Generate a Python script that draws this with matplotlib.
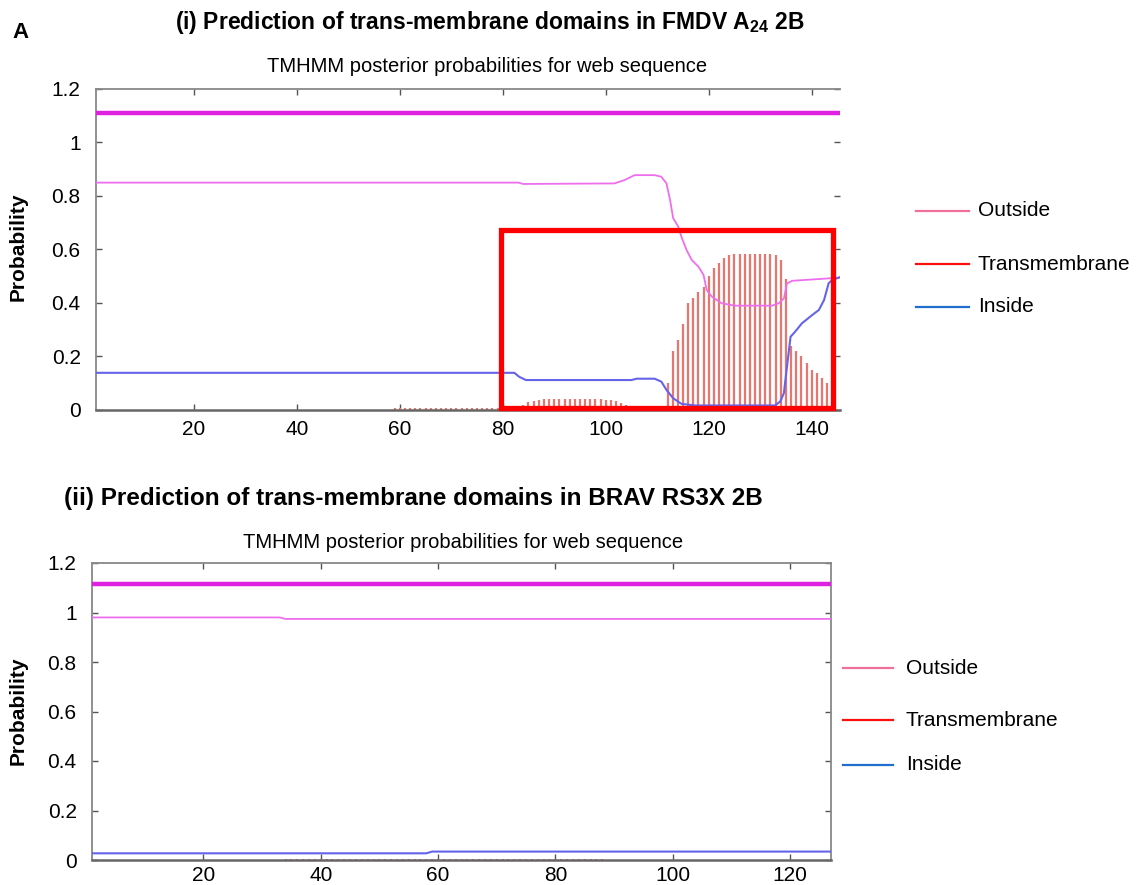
import matplotlib
matplotlib.use("Agg")
import matplotlib.pyplot as plt
from matplotlib.lines import Line2D
from matplotlib.patches import Rectangle

plt.rcParams['font.family'] = ['Liberation Sans', 'DejaVu Sans']
plt.rcParams['mathtext.fontset'] = 'custom'
plt.rcParams['mathtext.rm'] = 'Liberation Sans'
plt.rcParams['mathtext.bf'] = 'Liberation Sans:bold'

# ---- panel (i): FMDV A24 2B ----
top_out_x = [1, 83, 84, 101.7, 103.7, 105.6, 109.5, 110.8, 111.8, 112.5, 113.1, 114.1, 114.7,
             115.7, 116.7, 118.0, 119.0, 119.6, 120.6, 122.5, 125.1, 132.3, 133.6, 134.6,
             135.2, 136.2, 143.3, 146]
top_out_y = [0.85, 0.85, 0.845, 0.847, 0.86, 0.878, 0.878, 0.872, 0.847, 0.785, 0.717, 0.685,
             0.648, 0.598, 0.561, 0.536, 0.505, 0.449, 0.424, 0.399, 0.39, 0.39, 0.399, 0.417,
             0.473, 0.483, 0.492, 0.496]
top_in_x = [1, 82.25, 83.2, 84.5, 105, 106, 109.5, 110.8, 111.8, 113.1, 114.7, 117.3, 132.9,
            133.9, 134.6, 135.2, 135.9, 136.8, 138.1, 140.1, 141.4, 142.4, 143.3, 144, 146]
top_in_y = [0.139, 0.139, 0.124, 0.112, 0.112, 0.117, 0.117, 0.106, 0.075, 0.044, 0.023, 0.017,
            0.017, 0.032, 0.063, 0.162, 0.274, 0.293, 0.324, 0.355, 0.374, 0.411, 0.474, 0.486,
            0.5]
top_tm_pos = list(range(59, 105)) + list(range(112, 145))
top_tm_val = ([0.006] * 25 +
              [0.02, 0.03, 0.035, 0.038, 0.04, 0.04, 0.04, 0.04, 0.04, 0.04, 0.04, 0.04, 0.04,
               0.04, 0.04, 0.04, 0.038, 0.036, 0.033, 0.028, 0.02] +
              [0.10, 0.22, 0.26, 0.32, 0.40, 0.42, 0.44, 0.46, 0.50, 0.53, 0.55, 0.57, 0.58,
               0.585, 0.585, 0.585, 0.585, 0.585, 0.585, 0.585, 0.585, 0.58, 0.56, 0.49, 0.24,
               0.22, 0.20, 0.175, 0.15, 0.14, 0.12, 0.10, 0.03])
top_topology_y = 1.11
top_box = (79.6, 0.0075, 144.1, 0.673)   # highlighted region (x0, y0, x1, y1)
top_xticks = [20, 40, 60, 80, 100, 120, 140]

# ---- panel (ii): BRAV RS3X 2B ----
bot_out_x = [1, 33, 34, 127]
bot_out_y = [0.98, 0.98, 0.974, 0.974]
bot_in_x = [1, 58, 59, 127]
bot_in_y = [0.027, 0.027, 0.034, 0.034]
bot_tm_pos = list(range(34, 89))
bot_tm_val = [0.005] * 55
bot_topology_y = 1.115
bot_xticks = [20, 40, 60, 80, 100, 120]

yticks = [0, 0.2, 0.4, 0.6, 0.8, 1, 1.2]
ytick_labels = ['0', '0.2', '0.4', '0.6', '0.8', '1', '1.2']

W, H = 1137, 885
fig = plt.figure(figsize=(W / 100, H / 100), dpi=100)


def px_axes(l, t, r, b):
    return fig.add_axes([l / W, 1 - b / H, (r - l) / W, (b - t) / H])


def setup(ax, xmax, xticks, xpad, show_right=True):
    ax.set_xlim(1, xmax)
    ax.set_ylim(0, 1.2)
    ax.set_xticks(xticks)
    ax.set_yticks(yticks)
    ax.set_yticklabels(ytick_labels)
    ax.tick_params(direction='in', top=True, right=True, length=4, width=1, color='#555555',
                   labelsize=15)
    ax.tick_params(axis='y', pad=11)
    ax.tick_params(axis='x', pad=xpad)
    for side, sp in ax.spines.items():
        sp.set_color('#888888')
        sp.set_linewidth(1.3)
    ax.spines['bottom'].set_color('#666666')
    ax.spines['bottom'].set_linewidth(1.8)
    if not show_right:
        ax.spines['right'].set_visible(False)


def draw(ax, tm_pos, tm_val, out_x, out_y, in_x, in_y, topo_y, xmax):
    ax.vlines(tm_pos, 0, tm_val, colors='#e8766e', lw=1.6, zorder=2)
    ax.plot(out_x, out_y, color='#ee6fee', lw=1.3, zorder=3)
    ax.plot(in_x, in_y, color='#6464ea', lw=1.5, zorder=3)
    ax.plot([1, xmax], [topo_y, topo_y], color='#e020e0', lw=3.2, zorder=3)


ax1 = px_axes(96, 89, 840, 410)
setup(ax1, 145.5, top_xticks, 7.5, show_right=False)
draw(ax1, top_tm_pos, top_tm_val, top_out_x, top_out_y, top_in_x, top_in_y, top_topology_y, 146)
x0, y0, x1, y1 = top_box
ax1.add_patch(Rectangle((x0, y0), x1 - x0, y1 - y0, fill=False, ec='#ff0000', lw=3.8,
                        clip_on=False, zorder=6))

ax2 = px_axes(92, 563, 831, 860)
setup(ax2, 127, bot_xticks, 4)
draw(ax2, bot_tm_pos, bot_tm_val, bot_out_x, bot_out_y, bot_in_x, bot_in_y, bot_topology_y, 127)

# titles
fig.text(12 / W, 1 - 33 / H, 'A', fontsize=16, fontweight='bold', va='center', ha='left')
fig.text(490 / W, 1 - 22 / H,
         r'(i) Prediction of trans-membrane domains in FMDV A$_{\mathbf{24}}$ 2B',
         fontsize=16.5, fontweight='bold', ha='center', va='center')
fig.text(487 / W, 1 - 67 / H, 'TMHMM posterior probabilities for web sequence',
         fontsize=14.5, ha='center', va='center')
fig.text(413 / W, 1 - 498 / H, '(ii) Prediction of trans-membrane domains in BRAV RS3X 2B',
         fontsize=17.5, fontweight='bold', ha='center', va='center')
fig.text(463 / W, 1 - 543 / H, 'TMHMM posterior probabilities for web sequence',
         fontsize=14.5, ha='center', va='center')
fig.text(18 / W, 1 - 247 / H, 'Probability', rotation=90, fontsize=15, fontweight='bold',
         ha='center', va='center')
fig.text(18 / W, 1 - 711 / H, 'Probability', rotation=90, fontsize=15, fontweight='bold',
         ha='center', va='center')

# legends (drawn by hand, uneven spacing as in the original)
legend_names = ['Outside', 'Transmembrane', 'Inside']
legend_colors = ['#f0709c', '#ff1010', '#1f6fcf']
for lx0, lx1, tx, ys in [(916, 969, 978, [211, 264, 307]), (843, 893, 906, [668, 720, 765])]:
    for name, col, ly in zip(legend_names, legend_colors, ys):
        fig.add_artist(Line2D([lx0 / W, lx1 / W], [1 - ly / H, 1 - ly / H], color=col, lw=1.6,
                              transform=fig.transFigure))
        fig.text(tx / W, 1 - ly / H, name, fontsize=15, va='center', ha='left')

fig.savefig('out.png', dpi=100)
